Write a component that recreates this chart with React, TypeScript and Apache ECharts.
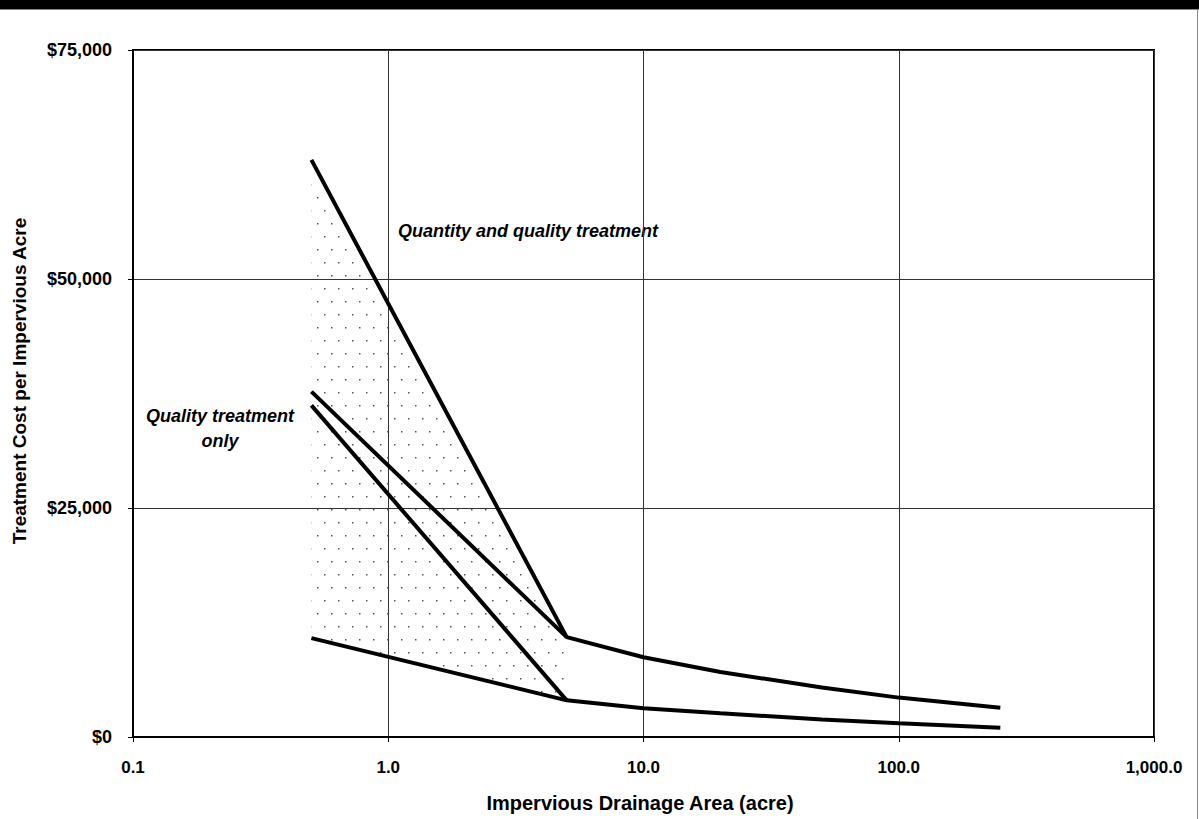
import React, { useEffect, useRef } from "react";
import * as echarts from "echarts";

// Impervious drainage area (acre) and treatment cost per impervious acre ($)
const upperX = [0.5, 5, 10, 20, 50, 100, 250];
const upperY = [63000, 10900, 8700, 7100, 5400, 4300, 3200];
const qualityUpperX = [0.5, 5];
const qualityUpperY = [37700, 10900];
const qualityLowerX = [0.5, 5];
const qualityLowerY = [36200, 4000];
const lowerX = [0.5, 5, 10, 20, 50, 100, 250];
const lowerY = [10800, 4000, 3150, 2600, 1900, 1500, 1000];

const xTicks = [0.1, 1, 10, 100, 1000];
const yTicks = [0, 25000, 50000, 75000];

const FONT = "'Liberation Sans', Arial, Helvetica, sans-serif";

function pairs(xs: number[], ys: number[]) {
  return xs.map((x, i) => [x, ys[i]]);
}

function makeDotPattern() {
  const c = document.createElement("canvas");
  c.width = 14;
  c.height = 26;
  const ctx = c.getContext("2d")!;
  ctx.fillStyle = "#555";
  ctx.fillRect(2, 2, 1.5, 1.5);
  ctx.fillRect(9, 15, 1.5, 1.5);
  return c;
}

export default function App() {
  const ref = useRef<HTMLDivElement>(null);
  useEffect(() => {
    document.body.style.margin = "0";
    const chart = echarts.init(ref.current!, null, { renderer: "svg" });
    const patternCanvas = makeDotPattern();
    const shadePts = [
      [upperX[0], upperY[0]],
      [upperX[1], upperY[1]],
      [lowerX[1], lowerY[1]],
      [lowerX[0], lowerY[0]],
    ];
    const lineStyle = { color: "#000", width: 4 };
    chart.setOption({
      animation: false,
      backgroundColor: "#fff",
      grid: {
        left: 133,
        right: 45,
        top: 50,
        bottom: 82,
        show: true,
        borderColor: "#000",
        borderWidth: 2,
        containLabel: false,
        outerBoundsMode: "none",
      },
      xAxis: {
        type: "log",
        logBase: 10,
        min: xTicks[0],
        max: xTicks[xTicks.length - 1],
        axisLine: { lineStyle: { color: "#000", width: 2 } },
        axisTick: { show: true, length: 5, lineStyle: { color: "#000" } },
        minorTick: { show: false },
        axisLabel: {
          margin: 22,
          fontFamily: FONT,
          fontWeight: "bold",
          fontSize: 17,
          color: "#000",
          formatter: (v: number) =>
            Number(v.toPrecision(6)).toLocaleString("en-US", {
              minimumFractionDigits: 1,
              maximumFractionDigits: 1,
            }),
        },
        splitLine: { show: true, lineStyle: { color: "#333", width: 1 } },
      },
      yAxis: {
        type: "value",
        min: yTicks[0],
        max: yTicks[yTicks.length - 1],
        interval: yTicks[1] - yTicks[0],
        axisLine: { show: true, lineStyle: { color: "#000", width: 2 } },
        axisTick: { show: true, length: 5, lineStyle: { color: "#000" } },
        axisLabel: {
          margin: 21,
          fontFamily: FONT,
          fontWeight: "bold",
          fontSize: 18,
          color: "#000",
          formatter: (v: number) => "$" + v.toLocaleString("en-US"),
        },
        splitLine: { show: true, lineStyle: { color: "#333", width: 1 } },
      },
      series: [
        {
          type: "custom",
          name: "shade",
          silent: true,
          z: 1,
          data: [[shadePts[0][0], shadePts[0][1]]],
          renderItem: (params: any, api: any) => {
            const points = shadePts.map((p) => api.coord(p));
            return {
              type: "polygon",
              shape: { points },
              style: {
                fill: {
                  image: patternCanvas,
                  repeat: "repeat",
                  imageWidth: 14,
                  imageHeight: 26,
                },
                stroke: "none",
              },
            };
          },
        },
        {
          type: "line",
          name: "Quantity and quality (upper)",
          data: pairs(upperX, upperY),
          symbol: "none",
          lineStyle,
          z: 3,
        },
        {
          type: "line",
          name: "Quality (upper)",
          data: pairs(qualityUpperX, qualityUpperY),
          symbol: "none",
          lineStyle,
          z: 3,
        },
        {
          type: "line",
          name: "Quality (lower)",
          data: pairs(qualityLowerX, qualityLowerY),
          symbol: "none",
          lineStyle,
          z: 3,
        },
        {
          type: "line",
          name: "Lower",
          data: pairs(lowerX, lowerY),
          symbol: "none",
          lineStyle,
          z: 3,
        },
      ],
      graphic: [
        { type: "rect", shape: { x: 0, y: 0, width: 1199, height: 9 }, style: { fill: "#000" } },
        { type: "line", shape: { x1: 0, y1: 9.5, x2: 1199, y2: 9.5 }, style: { stroke: "#888", lineWidth: 1 } },
        { type: "line", shape: { x1: 1197.5, y1: 9, x2: 1197.5, y2: 819 }, style: { stroke: "#888", lineWidth: 1 } },
        {
          type: "text",
          x: 19,
          y: 381,
          rotation: Math.PI / 2,
          style: {
            text: "Treatment Cost per Impervious Acre",
            font: `bold 19px ${FONT}`,
            fill: "#000",
            align: "center",
            verticalAlign: "middle",
          },
        },
        {
          type: "text",
          x: 640,
          y: 803,
          style: {
            text: "Impervious Drainage Area (acre)",
            font: `bold 20px ${FONT}`,
            fill: "#000",
            align: "center",
            verticalAlign: "middle",
          },
        },
        {
          type: "text",
          left: 398,
          top: 222,
          style: {
            text: "Quantity and quality treatment",
            font: `italic bold 18px ${FONT}`,
            fill: "#000",
          },
        },
        {
          type: "text",
          x: 220,
          y: 403,
          style: {
            text: "Quality treatment\nonly",
            font: `italic bold 18px ${FONT}`,
            fill: "#000",
            align: "center",
            lineHeight: 25,
          },
        },
      ],
    });
    return () => chart.dispose();
  }, []);
  return (
    <div
      ref={ref}
      style={{ position: "absolute", left: 0, top: 0, width: 1199, height: 819 }}
    />
  );
}
